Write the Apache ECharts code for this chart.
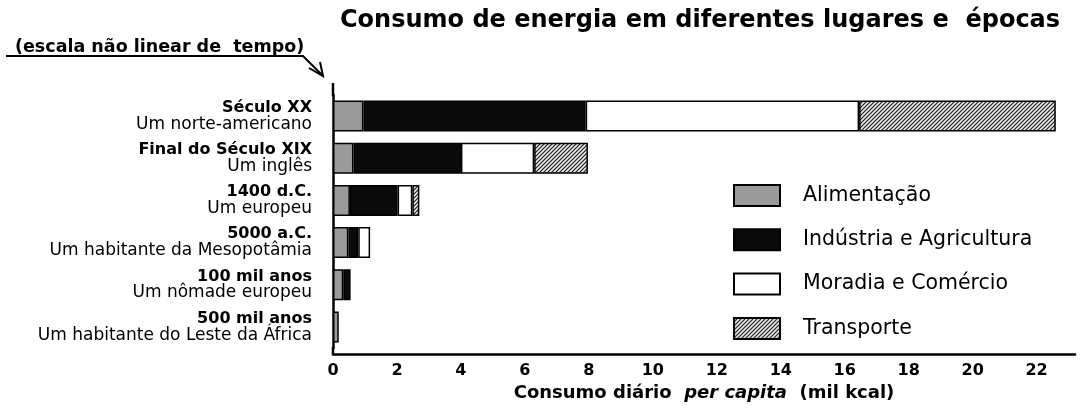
<!DOCTYPE html>
<html>
<head>
<meta charset="utf-8">
<script src="https://cdn.jsdelivr.net/npm/echarts@6/dist/echarts.min.js"></script>
<style>
  html, body { margin: 0; padding: 0; background: #fff; }
  #chart { width: 1083px; height: 409px; }
</style>
</head>
<body>
<div id="chart"></div>
<script>
// periods (bold line) and who (second line), top to bottom
const periods = ['Século XX', 'Final do Século XIX', '1400 d.C.', '5000 a.C.', '100 mil anos', '500 mil anos']
const people = ['Um norte-americano', 'Um inglês', 'Um europeu', 'Um habitante da Mesopotâmia', 'Um nômade europeu', 'Um habitante do Leste da África']

// consumo diario per capita (mil kcal)
const alimentacao = [0.95, 0.64, 0.53, 0.48, 0.32, 0.18]
const industria = [6.95, 3.36, 1.49, 0.31, 0.23, null]
const moradia = [8.55, 2.29, 0.46, 0.37, null, null]
const transporte = [6.15, 1.68, 0.22, null, null, null]

const FONT = '"DejaVu Sans", "Liberation Sans", Arial, sans-serif'

// diagonal hatch for Transporte
function hatch() {
  const c = document.createElement('canvas')
  c.width = 4
  c.height = 4
  const ctx = c.getContext('2d')
  ctx.fillStyle = '#e8e8e8'
  ctx.fillRect(0, 0, 4, 4)
  ctx.strokeStyle = '#222'
  ctx.lineWidth = 1.2
  ctx.beginPath()
  ctx.moveTo(0, 4); ctx.lineTo(4, 0)
  ctx.moveTo(-1, 1); ctx.lineTo(1, -1)
  ctx.moveTo(3, 5); ctx.lineTo(5, 3)
  ctx.stroke()
  return c
}

const chart = echarts.init(document.getElementById('chart'))

function seg(name, data, color) {
  return {
    name: name,
    type: 'bar',
    stack: 'total',
    barWidth: 31,
    data: data,
    itemStyle: { color: color, borderColor: '#000', borderWidth: 1.5 },
    emphasis: { disabled: true }
  }
}

chart.setOption({
  animation: false,
  textStyle: { fontFamily: FONT },
  title: {
    text: 'Consumo de energia em diferentes lugares e  épocas',
    left: 340,
    top: 9,
    padding: 0,
    textStyle: { fontSize: 24, fontWeight: 'bold', color: '#000', fontFamily: FONT }
  },
  legend: {
    orient: 'vertical',
    left: 733,
    top: 184,
    padding: 0,
    itemWidth: 46,
    itemHeight: 21,
    itemGap: 21.3,
    selectedMode: false,
    icon: 'rect',
    textStyle: { fontSize: 20.5, lineHeight: 21, color: '#000', padding: [0, 0, 0, 18], fontFamily: FONT },
    data: ['Alimentação', 'Indústria e Agricultura', 'Moradia e Comércio', 'Transporte']
  },
  grid: { left: 333, right: 8, top: 95, bottom: 61 },
  xAxis: {
    type: 'value',
    min: 0,
    max: 23.2,
    interval: 2,
    offset: 6,
    splitLine: { show: false },
    axisTick: { show: false },
    axisLine: { show: true, lineStyle: { color: '#000', width: 2.5 } },
    axisLabel: { fontSize: 16, fontWeight: 'bold', color: '#000', margin: 9, showMaxLabel: false, fontFamily: FONT },
    name: '{a|Consumo diário  }{i|per capita}{a|  (mil kcal)}',
    nameLocation: 'middle',
    nameGap: 29,
    nameTextStyle: {
      rich: {
        a: { fontSize: 18, fontWeight: 'bold', color: '#000', fontFamily: FONT },
        i: { fontSize: 18, fontWeight: 'bold', fontStyle: 'italic', color: '#000', fontFamily: FONT }
      }
    }
  },
  yAxis: {
    type: 'category',
    inverse: true,
    data: periods,
    axisTick: { show: false },
    axisLine: { show: true, lineStyle: { color: '#000', width: 2.5 } },
    axisLabel: {
      margin: 21,
      align: 'right',
      formatter: function (v, i) {
        return '{b|' + v + '}\n{n|' + people[i] + '}'
      },
      rich: {
        b: { fontSize: 16, fontWeight: 'bold', color: '#000', lineHeight: 16.5, align: 'right', fontFamily: FONT },
        n: { fontSize: 17, color: '#000', lineHeight: 16.5, align: 'right', fontFamily: FONT }
      }
    }
  },
  graphic: [
    // axis line extensions
    { type: 'line', shape: { x1: 333, y1: 83, x2: 333, y2: 96 }, style: { stroke: '#000', lineWidth: 2.5 } },
    { type: 'line', shape: { x1: 333, y1: 347, x2: 333, y2: 355 }, style: { stroke: '#000', lineWidth: 2.5 } },
    // time-scale note with arrow
    {
      type: 'text', left: 15, top: 38,
      style: { text: '(escala não linear de  tempo)', fontSize: 17.5, fontWeight: 'bold', fill: '#000', fontFamily: FONT }
    },
    { type: 'polyline', shape: { points: [[6, 56], [303, 56], [323, 76]] }, style: { stroke: '#000', lineWidth: 2, fill: null } },
    { type: 'polyline', shape: { points: [[309, 68], [323, 76], [320, 62]] }, style: { stroke: '#000', lineWidth: 2, fill: null } }
  ],
  series: [
    seg('Alimentação', alimentacao, '#9a9a9a'),
    seg('Indústria e Agricultura', industria, '#0a0a0a'),
    seg('Moradia e Comércio', moradia, '#ffffff'),
    seg('Transporte', transporte, { image: hatch(), repeat: 'repeat' })
  ]
})
</script>
</body>
</html>
